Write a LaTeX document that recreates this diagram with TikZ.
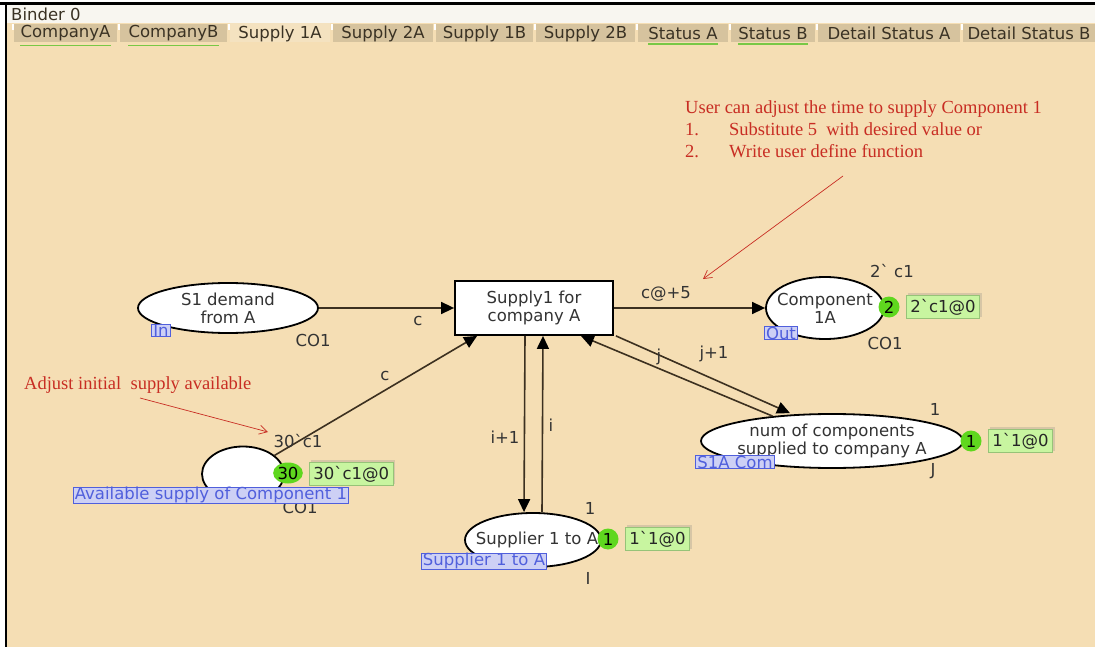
\documentclass[tikz,border=0pt]{standalone}
\usepackage{fontspec}
\setmainfont{Liberation Serif}
\newfontfamily\cpn{DejaVu Sans}
\usetikzlibrary{arrows.meta,calc,shapes.geometric,shadows}

\definecolor{canvas}{RGB}{245,222,180}
\definecolor{barbg}{RGB}{248,246,240}
\definecolor{tabbg}{RGB}{214,195,158}
\definecolor{tabact}{RGB}{244,226,192}
\definecolor{tabtext}{RGB}{58,50,36}
\definecolor{tabline}{RGB}{120,200,70}
\definecolor{arccol}{RGB}{60,48,32}
\definecolor{notecol}{RGB}{200,45,35}
\definecolor{tagfill}{RGB}{205,208,245}
\definecolor{tagtext}{RGB}{80,95,220}
\definecolor{tokfill}{RGB}{95,215,30}
\definecolor{markfill}{RGB}{200,245,160}
\definecolor{markdraw}{RGB}{150,195,120}

% grave accent as used in CPN multiset notation
\newcommand{\gr}{\char96\relax}

\begin{document}
\begin{tikzpicture}[x=1pt,y=-1pt,
  cpnfont/.style={font=\cpn\fontsize{16.5}{18}\selectfont},
  place/.style={ellipse, draw=black, line width=1.8, fill=white,
    inner sep=0},
  placetext/.style={cpnfont, text=black!80, align=center, inner sep=0},
  trans/.style={rectangle, draw=black, line width=1.8, fill=white, align=center,
    minimum width=158, minimum height=54, inner sep=0, cpnfont, text=black!80},
  arcline/.style={draw=arccol, line width=1.6, -{Triangle[length=13,width=12,color=black]}},
  lbl/.style={cpnfont, text=black!80, inner sep=0},
  tag/.style={draw=tagtext, fill=tagfill, text=tagtext, line width=0.9,
    inner xsep=1.5, inner ysep=0, cpnfont},
  token/.style={ellipse, fill=tokfill, minimum width=21, minimum height=21,
    inner sep=0, cpnfont},
  marking/.style={fill=markfill, draw=markdraw, line width=0.8, inner xsep=4,
    inner ysep=3.5, cpnfont, text=black!85,
    drop shadow={shadow xshift=2, shadow yshift=-2, opacity=0.25}},
  notetext/.style={text=notecol, font=\fontsize{18.5}{22}\selectfont, inner sep=0},
  notearrow/.style={draw=notecol, line width=0.7, -{Straight Barb[length=8,width=9]}},
  tabtxt/.style={text=tabtext, font=\cpn\fontsize{16.5}{19}\selectfont, inner sep=0}
]
\useasboundingbox (0,0) rectangle (1095,647);
\fill[white] (0,0) rectangle (1095,647);
\fill[canvas] (6,42) rectangle (1095,647);

% binder title bar
\fill[barbg] (6,4) rectangle (1095,23);
\node[tabtxt, anchor=west] (binder) at (11,14) {Binder 0};

% tab row
\fill[canvas] (6,23) rectangle (1095,42);
\foreach \xa/\xb/\name/\act/\ul in {
  14/117/CompanyA/0/1, 120/227/CompanyB/0/1, 230/330/Supply 1A/1/0,
  333/433/Supply 2A/0/0, 436/533/Supply 1B/0/0, 536/635/Supply 2B/0/0,
  638/728/Status A/0/1, 731/815/Status B/0/1, 818/960/Detail Status A/0/0,
  963/1095/Detail Status B/0/0}{
  \ifnum\act=1
    \fill[tabact] (\xa,23) rectangle (\xb,42);
  \else
    \fill[tabbg] (\xa,24) rectangle (\xb,42);
  \fi
  \draw[white, line width=1.2] (\xa-1,24) -- (\xa-1,30);
  \node[tabtxt] (tab\xa) at ({(\xa+\xb)/2},33.5) {\name};
  \ifnum\ul=1
    \draw[tabline, line width=1.4] ($(tab\xa.south west)+(0,4)$) -- ($(tab\xa.south east)+(0,4)$);
  \fi
}

% frame
\draw[black, line width=2.5] (0,3.5) -- (1095,3.5);
\draw[black, line width=2.5] (6,3) -- (6,647);

% places and transition
\node[place, minimum width=180, minimum height=50,
  label={[placetext]center:{S1 demand\\from A}}] (demand) at (228,308) {};
\node[trans] (trans) at (534,308) {Supply1 for\\company A};
\node[place, minimum width=118, minimum height=62,
  label={[placetext]center:{Component\\1A}}] (comp) at (825,308) {};
\node[place, minimum width=262, minimum height=54,
  label={[placetext]center:{num of components\\supplied to company A}}] (num) at (832,441) {};
\node[place, minimum width=82, minimum height=55] (avail) at (243,474) {};
\node[place, minimum width=136, minimum height=54,
  label={[placetext]center:{\hspace*{8pt}Supplier 1 to A}}] (sup) at (533,540) {};

% arcs
\draw[arcline] (demand) -- (trans.west);
\draw[arcline] (trans.east) -- (comp.west);
\draw[arcline] (avail) -- ($(trans.south west)+(23,0)$);
\draw[arcline] ($(trans.south)+(-9,0)$) -- ($(sup.north)+(-9,0)$);
\draw[arcline] ($(sup.north)+(9,0)$) -- ($(trans.south)+(9,0)$);
\draw[arcline] ($(trans.south east)+(2,0)$) -- ($(num.north)+(-42,0)$);
\draw[arcline] (num) -- ($(trans.south east)+(-33,0)$);

% arc inscriptions
\node[lbl] (lc1) at (418,321) {c};
\node[lbl] (lc5) at (666,294) {c@+5};
\node[lbl] (lc2) at (385,376) {c};
\node[lbl] (li1) at (505,437) {i+1};
\node[lbl] (li) at (551,425) {i};
\node[lbl] (lj) at (659,357) {j};
\node[lbl] (lj1) at (714,354) {j+1};

% place inscriptions
\node[lbl] (demandtype) at (313,340) {CO1};
\node[lbl] (compinit) at (892,271) {2\gr{} c1};
\node[lbl] (comptype) at (885,343) {CO1};
\node[lbl] (numinit) at (935,409) {1};
\node[lbl] (numtype) at (933,471) {J};
\node[lbl] (availinit) at (298,441) {30\gr c1};
\node[lbl] (availtype) at (300,507) {CO1};
\node[lbl] (supinit) at (590,508) {1};
\node[lbl] (suptype) at (588,578) {I};

% port and fusion tags
\node[tag] (tagin) at (161,330) {In};
\node[tag] (tagout) at (781,333) {Out};
\node[tag] (tagnum) at (735,462) {S1A Com};
\node[tag] (tagavail) at (211,495) {Available supply of Component 1};
\node[tag] (tagsup) at (484,561) {Supplier 1 to A};

% current markings
\node[token] (tokcomp) at (889,307) {2};
\node[marking, anchor=west] (markcomp) at (906,307) {2\gr c1@0};
\node[token] (toknum) at (971,441) {1};
\node[marking, anchor=west] (marknum) at (988,441) {1\gr 1@0};
\node[token, minimum width=28] (tokavail) at (288,473) {30};
\node[marking, anchor=west] (markavail) at (309,474) {30\gr c1@0};
\node[token] (toksup) at (608,539) {1};
\node[marking, anchor=west] (marksup) at (625,539) {1\gr 1@0};

% notes
\node[notetext, anchor=north west, align=left] (note1) at (685,100)
  {User can adjust the time to supply Component 1\\
   \makebox[44pt][l]{1.}Substitute 5\ \ with desired value or\\
   \makebox[44pt][l]{2.}Write user define function};
\coordinate (n1tail) at (843,176);
\coordinate (n1head) at (703,279);
\draw[notearrow] (n1tail) -- (n1head);

\node[notetext, anchor=base west] (note2) at (24,389) {Adjust initial\ \ supply available};
\coordinate (n2tail) at (140,398);
\coordinate (n2head) at (268,432);
\draw[notearrow] (n2tail) -- (n2head);
\end{tikzpicture}
\end{document}
